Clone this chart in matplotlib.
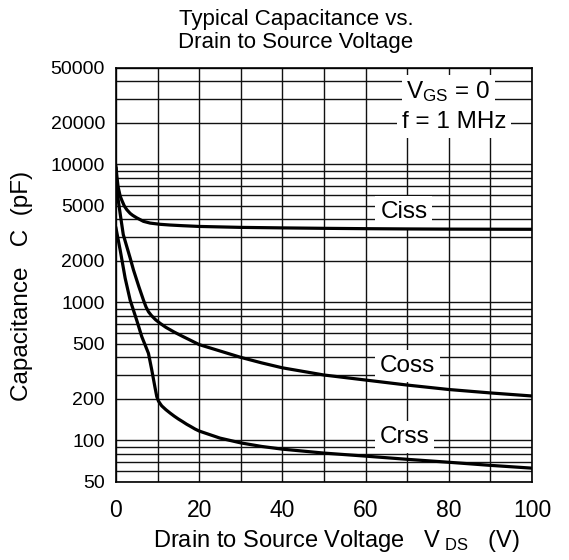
import matplotlib
matplotlib.use("Agg")
import matplotlib.pyplot as plt
from matplotlib.ticker import FixedLocator, LogLocator, NullFormatter

plt.rcParams["font.family"] = ["Liberation Sans", "DejaVu Sans"]
plt.rcParams["mathtext.fontset"] = "custom"
plt.rcParams["mathtext.rm"] = "Liberation Sans"
plt.rcParams["mathtext.it"] = "Liberation Sans:italic"

# Curves (V_DS in volts, capacitance in pF)
v_ciss = [0, 0.25, 0.5, 1, 1.4, 2, 2.6, 3.4, 4, 5, 6.6, 8.2, 10.6, 13, 16,
          20, 30, 40, 50, 60, 70, 80, 90, 100]
c_ciss = [9600, 8000, 6900, 5900, 5500, 5000, 4700, 4420, 4280, 4100, 3870,
          3760, 3684, 3640, 3600, 3555, 3500, 3470, 3445, 3425, 3410, 3400,
          3395, 3390]

v_coss = [0, 0.3, 1.0, 1.75, 3.4, 4.2, 5.5, 6.6, 7.2, 7.8, 8.5, 9.5, 10.6,
          12, 14, 16, 17.8, 20, 25, 30, 35, 40, 50, 60, 70, 80, 90, 100]
c_coss = [9300, 6200, 4400, 3100, 2100, 1720, 1300, 1040, 930, 857, 805,
          750, 706, 660, 610, 568, 534, 495, 445, 400, 365, 336, 298, 274,
          252, 234, 221, 210]

v_crss = [0, 1, 2.2, 3.4, 5, 6.2, 7.8, 8.6, 9.4, 9.8, 10.2, 10.6, 11, 12,
          13, 14, 15, 16, 17, 18, 19, 20, 25, 30, 35, 40, 50, 60, 70, 80,
          90, 100]
c_crss = [3450, 2400, 1500, 1040, 740, 565, 428, 324, 240, 208, 193, 185,
          178, 167, 158, 150, 143, 137, 131, 126, 121, 117, 104, 96, 90.5,
          86.5, 81, 77, 73, 69.5, 66, 63]

x_ticks = [0, 20, 40, 60, 80, 100]
y_ticks = [50, 100, 200, 500, 1000, 2000, 5000, 10000, 20000, 50000]

fig = plt.figure(figsize=(5.69, 5.60), dpi=100)
ax = fig.add_axes([116 / 569, 78 / 560, 416 / 569, 414 / 560])

ax.set_yscale("log")
ax.set_xlim(0, 100)
ax.set_ylim(50, 50000)

for v, c in [(v_ciss, c_ciss), (v_coss, c_coss), (v_crss, c_crss)]:
    ax.plot(v, c, color="black", lw=2.3, solid_joinstyle="round", zorder=3)

ax.xaxis.set_major_locator(FixedLocator(x_ticks))
ax.xaxis.set_minor_locator(FixedLocator(range(10, 100, 20)))
ax.yaxis.set_major_locator(FixedLocator(y_ticks))
ax.yaxis.set_major_formatter(plt.FixedFormatter([str(t) for t in y_ticks]))
ax.yaxis.set_minor_locator(LogLocator(base=10, subs=range(1, 10)))
ax.yaxis.set_minor_formatter(NullFormatter())

ax.grid(True, which="both", color="#111111", lw=1.0)
ax.tick_params(which="both", length=0)
ax.tick_params(axis="x", pad=12, labelsize=16.5)
ax.tick_params(axis="y", pad=8, labelsize=14)
for s in ax.spines.values():
    s.set_linewidth(1.2)
    s.set_zorder(4)

fs = 17.5
box = dict(facecolor="white", edgecolor="none", pad=3.5)
ax.text(69.2, 4540, "Ciss", fontsize=fs, ha="center", va="center", bbox=box, zorder=2.5)
ax.text(70, 346, "Coss", fontsize=fs, ha="center", va="center", bbox=box, zorder=2.5)
ax.text(69.3, 106, "Crss", fontsize=fs, ha="center", va="center", bbox=box, zorder=2.5)
ax.text(79.9, 33500, r"V$_{\mathrm{GS}}$ = 0", fontsize=fs, ha="center", va="center",
        bbox=box, zorder=2.5)
ax.text(81.3, 20300, "f = 1 MHz", fontsize=fs, ha="center", va="center", bbox=box, zorder=2.5)

fig.text(296 / 569, 1 - 31 / 560, "Typical Capacitance vs.\nDrain to Source Voltage",
         ha="center", va="center", fontsize=16, linespacing=1.08)
fig.text(336 / 569, 1 - 541 / 560,
         r"Drain to Source Voltage   V$_{\ \mathrm{DS}}$   (V)",
         ha="center", va="center", fontsize=17)
fig.text(22 / 569, 1 - 286 / 560, "Capacitance   C  (pF)", rotation=90,
         ha="center", va="center", fontsize=17.5)

fig.savefig("out.png", dpi=100)
